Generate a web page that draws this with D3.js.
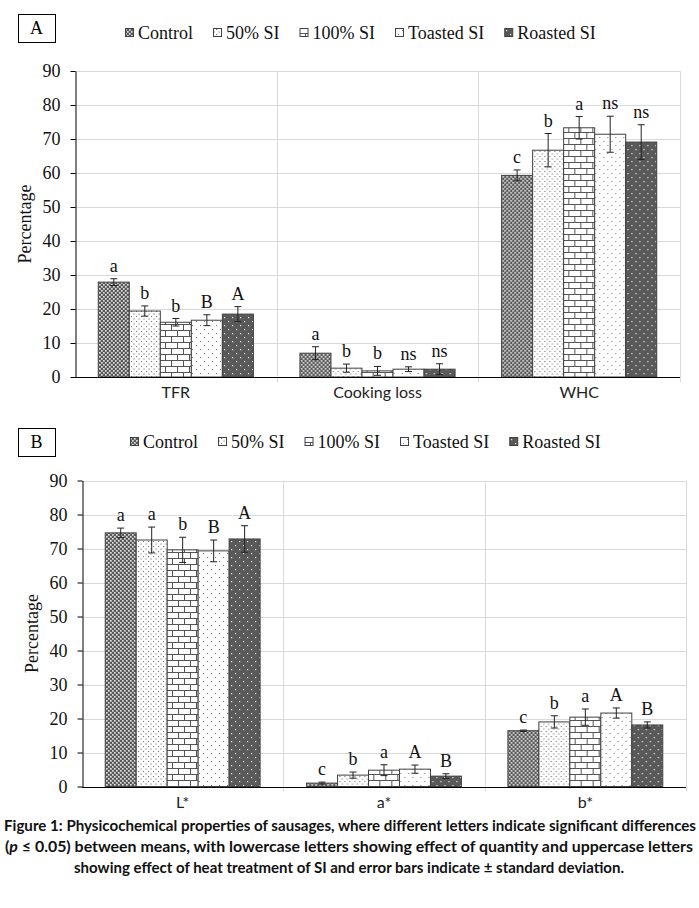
<!DOCTYPE html>
<html>
<head>
<meta charset="utf-8">
<script src="https://cdn.jsdelivr.net/npm/d3@7"></script>
<style>
  body { margin: 0; background: #fff; }
  svg { display: block; }
</style>
</head>
<body>
<svg id="chart" width="699" height="908"></svg>
<script>
// values
const treatments = ["Control", "50% SI", "100% SI", "Toasted SI", "Roasted SI"];
const groupsA = ["TFR", "Cooking loss", "WHC"];
const groupsB = ["L*", "a*", "b*"];
const yTicks = [0, 10, 20, 30, 40, 50, 60, 70, 80, 90];

const meansA = [
  [27.9, 19.4, 16.1, 16.7, 18.5],
  [7.0, 2.6, 1.8, 2.3, 2.3],
  [59.3, 66.7, 73.3, 71.4, 69.1]
];
const sdA = [
  [1.0, 1.5, 1.1, 1.6, 2.2],
  [1.9, 1.2, 1.3, 0.7, 1.6],
  [1.6, 4.9, 3.3, 5.3, 5.1]
];
const lettersA = [
  ["a", "b", "b", "B", "A"],
  ["a", "b", "b", "ns", "ns"],
  ["c", "b", "a", "ns", "ns"]
];

const meansB = [
  [74.6, 72.5, 69.6, 69.3, 72.8],
  [1.0, 3.35, 4.8, 5.1, 3.05],
  [16.4, 19.0, 20.4, 21.6, 18.1]
];
const sdB = [
  [1.4, 3.8, 3.7, 3.2, 3.9],
  [0.3, 0.9, 1.6, 1.2, 0.7],
  [0.2, 1.8, 2.4, 1.5, 0.9]
];
const lettersB = [
  ["a", "a", "b", "B", "A"],
  ["c", "b", "a", "A", "B"],
  ["c", "b", "a", "A", "B"]
];

const captionLines = [
  "Figure 1: Physicochemical properties of sausages, where different letters indicate significant differences",
  "between means, with lowercase letters showing effect of quantity and uppercase letters",
  "showing effect of heat treatment of SI and error bars indicate \u00b1 standard deviation."
];

const serif = "'Liberation Serif', 'Times New Roman', serif";
const sans = "Lato, 'Open Sans', sans-serif";

const svg = d3.select("#chart");
svg.append("rect").attr("width", 699).attr("height", 908).attr("fill", "#fff");

// fill patterns, one per treatment
const defs = svg.append("defs");

function makePattern(id, w, h, bg) {
  const p = defs.append("pattern")
    .attr("id", id)
    .attr("patternUnits", "userSpaceOnUse")
    .attr("width", w)
    .attr("height", h);
  p.append("rect").attr("width", w).attr("height", h).attr("fill", bg);
  return p;
}

const pc = makePattern("pat0", 4, 4, "#5a5a5a");
pc.append("rect").attr("x", 0).attr("y", 0).attr("width", 1.7).attr("height", 1.7).attr("fill", "#dcdcdc");
pc.append("rect").attr("x", 2).attr("y", 2).attr("width", 1.7).attr("height", 1.7).attr("fill", "#dcdcdc");

const p50 = makePattern("pat1", 5, 5, "#fff");
p50.append("rect").attr("x", 1).attr("y", 1).attr("width", 1.1).attr("height", 1.1).attr("fill", "#777");
p50.append("rect").attr("x", 3.5).attr("y", 3.5).attr("width", 1.1).attr("height", 1.1).attr("fill", "#777");

const p100 = makePattern("pat2", 12, 12, "#fff");
p100.append("path")
  .attr("d", "M0,0.5H12M0,6.5H12M0.5,0.5V6.5M6.5,6.5V12")
  .attr("stroke", "#555")
  .attr("stroke-width", 1)
  .attr("fill", "none");

const pt = makePattern("pat3", 8, 8, "#fff");
pt.append("rect").attr("x", 1).attr("y", 1).attr("width", 1).attr("height", 1).attr("fill", "#777");
pt.append("rect").attr("x", 5).attr("y", 5).attr("width", 1).attr("height", 1).attr("fill", "#777");

const pr = makePattern("pat4", 8, 8, "#595959");
pr.append("rect").attr("x", 1).attr("y", 1).attr("width", 1.2).attr("height", 1.2).attr("fill", "#e8e8e8");
pr.append("rect").attr("x", 5).attr("y", 5).attr("width", 1.2).attr("height", 1.2).attr("fill", "#e8e8e8");

const fillFor = (i) => `url(#pat${i})`;

function drawPanel(cfg) {
  const g = svg.append("g");

  const y = d3.scaleLinear().domain([0, 90]).range([cfg.bottom, cfg.top]);

  const x0 = d3.scaleBand()
    .domain(cfg.groups)
    .range([cfg.left, cfg.right])
    .paddingInner(0)
    .paddingOuter(0);

  const x1 = d3.scaleBand()
    .domain(treatments)
    .range([0, x0.bandwidth()])
    .paddingInner(0)
    .paddingOuter(0.75);

  // horizontal gridlines
  g.append("g")
    .selectAll("line")
    .data(yTicks.filter((t) => t > 0))
    .join("line")
    .attr("x1", cfg.left)
    .attr("x2", cfg.right)
    .attr("y1", (d) => Math.round(y(d)) + 0.5)
    .attr("y2", (d) => Math.round(y(d)) + 0.5)
    .attr("stroke", "#d9d9d9")
    .attr("stroke-width", 1);

  // vertical separators between categories
  const seps = cfg.groups.map((d) => x0(d) + x0.bandwidth());
  g.append("g")
    .selectAll("line")
    .data(seps)
    .join("line")
    .attr("x1", (d) => Math.round(d) + 0.5)
    .attr("x2", (d) => Math.round(d) + 0.5)
    .attr("y1", y(90))
    .attr("y2", y(0) + 5)
    .attr("stroke", "#d9d9d9")
    .attr("stroke-width", 1);

  // bars
  cfg.groups.forEach((grp, gi) => {
    const bg = g.append("g").attr("transform", `translate(${x0(grp)},0)`);

    bg.selectAll("rect")
      .data(cfg.means[gi])
      .join("rect")
      .attr("x", (d, i) => x1(treatments[i]))
      .attr("y", (d) => y(d))
      .attr("width", x1.bandwidth())
      .attr("height", (d) => y(0) - y(d))
      .attr("fill", (d, i) => fillFor(i))
      .attr("stroke", "#404040")
      .attr("stroke-width", 1);

    // error bars
    const eb = bg.selectAll("g.err")
      .data(cfg.means[gi].map((m, i) => ({ m, sd: cfg.sd[gi][i], i })))
      .join("g")
      .attr("class", "err");

    const cx = (d) => x1(treatments[d.i]) + x1.bandwidth() / 2;

    eb.append("line")
      .attr("x1", cx).attr("x2", cx)
      .attr("y1", (d) => y(d.m - d.sd))
      .attr("y2", (d) => y(d.m + d.sd))
      .attr("stroke", "#222");
    eb.append("line")
      .attr("x1", (d) => cx(d) - 3.5).attr("x2", (d) => cx(d) + 3.5)
      .attr("y1", (d) => y(d.m + d.sd)).attr("y2", (d) => y(d.m + d.sd))
      .attr("stroke", "#222");
    eb.append("line")
      .attr("x1", (d) => cx(d) - 3.5).attr("x2", (d) => cx(d) + 3.5)
      .attr("y1", (d) => y(d.m - d.sd)).attr("y2", (d) => y(d.m - d.sd))
      .attr("stroke", "#222");

    // significance letters
    eb.append("text")
      .attr("x", cx)
      .attr("y", (d) => y(d.m + d.sd) - 7)
      .attr("text-anchor", "middle")
      .attr("font-family", serif)
      .attr("font-size", 18)
      .attr("fill", "#111")
      .text((d) => cfg.letters[gi][d.i]);
  });

  // y axis
  const yAxis = g.append("g")
    .attr("transform", `translate(${cfg.left + 0.5},0)`)
    .call(d3.axisLeft(y).tickValues(yTicks).tickSize(5).tickPadding(10).tickSizeOuter(0));
  yAxis.select(".domain").attr("stroke", "#000");
  yAxis.selectAll(".tick line").attr("stroke", "#000");
  yAxis.selectAll("text")
    .attr("font-family", serif)
    .attr("font-size", 18)
    .attr("fill", "#111");

  // x axis baseline and category labels
  g.append("line")
    .attr("x1", cfg.left)
    .attr("x2", cfg.right)
    .attr("y1", Math.round(y(0)) + 0.5)
    .attr("y2", Math.round(y(0)) + 0.5)
    .attr("stroke", "#000");

  g.append("g")
    .selectAll("text")
    .data(cfg.groups)
    .join("text")
    .attr("x", (d) => x0(d) + x0.bandwidth() / 2)
    .attr("y", y(0) + 21)
    .attr("text-anchor", "middle")
    .attr("font-family", sans)
    .attr("font-size", 16)
    .attr("fill", "#222")
    .text((d) => d);

  // axis title
  g.append("text")
    .attr("transform", `translate(${cfg.titleX},${(y(0) + y(90)) / 2}) rotate(-90)`)
    .attr("text-anchor", "middle")
    .attr("font-family", serif)
    .attr("font-size", 18)
    .attr("fill", "#111")
    .text("Percentage");

  // panel letter box
  g.append("rect")
    .attr("x", cfg.box[0] + 0.5)
    .attr("y", cfg.box[1] + 0.5)
    .attr("width", 37)
    .attr("height", 28)
    .attr("fill", "#fff")
    .attr("stroke", "#000");
  g.append("text")
    .attr("x", cfg.box[0] + 18.5)
    .attr("y", cfg.box[1] + 20)
    .attr("text-anchor", "middle")
    .attr("font-family", serif)
    .attr("font-size", 18)
    .text(cfg.label);

  // legend
  const lg = g.append("g").attr("transform", `translate(${cfg.legendX},${cfg.legendY})`);
  let lx = 0;
  treatments.forEach((t, i) => {
    lg.append("rect")
      .attr("x", lx + 0.5)
      .attr("y", -4.5)
      .attr("width", 8)
      .attr("height", 8)
      .attr("fill", fillFor(i))
      .attr("stroke", "#404040");
    const tx = lg.append("text")
      .attr("x", lx + 13)
      .attr("y", 6)
      .attr("font-family", serif)
      .attr("font-size", 18)
      .attr("fill", "#111")
      .text(t);
    lx += 13 + tx.node().getComputedTextLength() + 20;
  });
}

drawPanel({
  label: "A",
  groups: groupsA,
  means: meansA,
  sd: sdA,
  letters: lettersA,
  left: 75,
  right: 680,
  top: 71,
  bottom: 377,
  titleX: 31,
  box: [18, 14],
  legendX: 125,
  legendY: 33
});

drawPanel({
  label: "B",
  groups: groupsB,
  means: meansB,
  sd: sdB,
  letters: lettersB,
  left: 82,
  right: 686,
  top: 480.5,
  bottom: 786.5,
  titleX: 38,
  box: [18, 428],
  legendX: 130,
  legendY: 442
});

// caption
const cap = svg.append("g")
  .attr("font-family", "Lato, 'Open Sans', sans-serif")
  .attr("font-weight", "bold")
  .attr("font-size", 15)
  .attr("fill", "#111")
  .attr("text-anchor", "middle");

cap.append("text")
  .attr("x", 350).attr("y", 831)
  .attr("textLength", 692).attr("lengthAdjust", "spacingAndGlyphs")
  .text(captionLines[0]);

const l2 = cap.append("text")
  .attr("x", 349).attr("y", 852)
  .attr("textLength", 688).attr("lengthAdjust", "spacingAndGlyphs");
l2.append("tspan").text("(");
l2.append("tspan").attr("font-style", "italic").text("p");
l2.append("tspan").text(" \u2264 0.05) " + captionLines[1]);

cap.append("text")
  .attr("x", 349).attr("y", 873)
  .attr("textLength", 550).attr("lengthAdjust", "spacingAndGlyphs")
  .text(captionLines[2]);
</script>
</body>
</html>
